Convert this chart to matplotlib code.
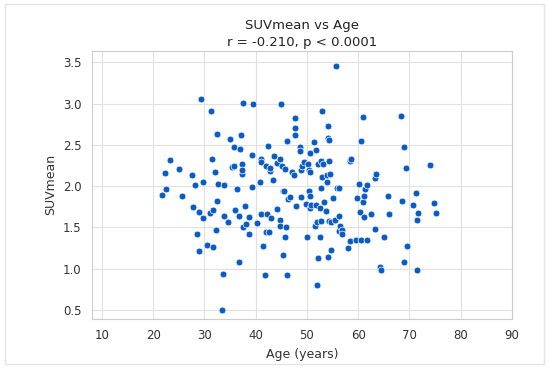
import matplotlib
matplotlib.use("Agg")
import matplotlib.pyplot as plt
import seaborn as sns
import pandas as pd
from matplotlib.patches import Rectangle

# values
age = [21.7, 22.5, 22.3, 23.2, 25.0, 25.6, 27.6, 27.7, 28.1, 28.5,
       28.9, 28.9, 29.4, 29.8, 29.7, 30.5, 31.2, 31.0, 31.4, 31.6,
       31.6, 32.1, 32.3, 32.5, 32.5, 32.7, 33.6, 33.5, 33.8, 33.9,
       34.6, 34.9, 35.3, 35.8, 35.8, 35.9, 36.3, 36.7, 36.9, 36.8,
       37.2, 37.4, 37.4, 37.5, 37.6, 37.4, 38.0, 38.2, 38.7, 38.7,
       39.2, 39.3, 39.4, 40.2, 40.9, 41.0, 41.0, 41.0, 41.5, 41.8,
       42.0, 42.0, 42.2, 42.4, 42.5, 42.7, 42.8, 42.9, 43.4, 43.6,
       44.1, 44.2, 44.7, 44.8, 44.7, 45.0, 45.1, 45.3, 45.4, 45.6,
       45.8, 45.8, 46.0, 46.1, 46.1, 46.3, 46.7, 47.1, 47.4, 47.6,
       47.6, 47.7, 47.9, 48.6, 48.7, 48.8, 48.8, 49.0, 49.4, 49.9,
       50.0, 50.2, 50.4, 50.4, 50.5, 50.5, 50.6, 50.6, 50.8, 51.4,
       51.6, 51.7, 51.8, 51.9, 52.0, 52.2, 52.2, 52.5, 52.6, 52.7,
       52.7, 52.9, 52.8, 52.9, 53.2, 53.4, 53.7, 53.9, 54.0, 54.2,
       54.2, 54.3, 54.3, 54.3, 54.5, 54.2, 54.7, 54.7, 55.0, 55.4,
       55.6, 55.9, 56.2, 56.2, 56.2, 56.4, 56.8, 56.9, 58.0, 58.3,
       58.6, 58.4, 59.6, 59.8, 60.2, 60.5, 60.4, 60.6, 60.9, 61.0,
       61.1, 61.2, 61.4, 61.7, 61.7, 62.5, 63.3, 63.4, 63.3, 64.2,
       64.5, 65.1, 65.8, 66.1, 68.4, 68.5, 68.9, 69.0, 69.4, 69.5,
       70.6, 71.3, 71.4, 71.5, 71.6, 74.0, 74.7, 75.2]
suv = [1.89, 1.96, 2.16, 2.32, 2.21, 1.88, 2.13, 1.75, 2.01, 1.42,
       1.69, 1.21, 3.05, 2.05, 1.61, 1.29, 2.91, 1.68, 2.33, 1.26,
       1.71, 2.17, 1.47, 2.63, 1.82, 2.02, 0.94, 0.50, 2.01, 1.64,
       1.57, 2.57, 2.23, 2.25, 2.48, 1.71, 1.97, 1.64, 2.45, 1.08,
       2.62, 2.15, 2.27, 3.01, 1.51, 2.20, 1.76, 1.54, 1.42, 1.63,
       2.38, 1.99, 3.00, 1.55, 2.05, 2.33, 2.29, 1.66, 1.27, 0.92,
       2.24, 1.44, 1.66, 2.49, 1.44, 2.18, 2.22, 1.61, 2.08, 2.37,
       2.28, 1.72, 2.33, 1.59, 1.52, 2.99, 2.24, 1.94, 1.16, 1.94,
       2.21, 1.39, 1.50, 2.55, 0.92, 1.85, 1.87, 2.17, 2.13, 2.83,
       2.71, 2.62, 1.76, 2.47, 2.42, 2.20, 1.87, 2.24, 2.29, 1.78,
       1.39, 2.27, 2.20, 1.94, 1.73, 1.88, 2.40, 2.17, 1.77, 2.53,
       1.52, 2.44, 1.77, 1.57, 0.80, 2.27, 1.13, 1.39, 1.74, 1.98,
       1.58, 2.91, 2.31, 2.11, 2.27, 1.81, 1.70, 2.05, 2.13, 2.73,
       2.58, 2.31, 2.56, 1.58, 2.15, 1.14, 1.23, 1.56, 1.86, 1.59,
       3.46, 1.98, 1.98, 1.64, 1.46, 1.52, 1.47, 1.42, 1.25, 2.30,
       2.33, 1.33, 1.35, 1.86, 2.03, 1.35, 1.69, 2.55, 1.81, 2.84,
       1.63, 1.88, 1.97, 2.01, 1.35, 1.66, 2.10, 2.15, 1.48, 1.02,
       0.98, 1.39, 1.88, 1.66, 2.85, 1.82, 1.08, 2.48, 2.22, 1.27,
       1.77, 1.92, 1.59, 0.98, 1.67, 2.26, 1.79, 1.68]

df = pd.DataFrame({"Age": age, "SUVmean": suv})

sns.set_style("whitegrid", {"axes.edgecolor": "#cccccc", "grid.color": "#e0e0e0"})
plt.rcParams["font.family"] = ["DejaVu Sans"]

fig = plt.figure(figsize=(5.5, 3.7), dpi=100)
ax = fig.add_axes([0.1667, 0.137, 0.7642, 0.7265])

sns.scatterplot(data=df, x="Age", y="SUVmean", ax=ax, s=24, color="#0a5bc4",
                edgecolor="white", linewidth=0.5)

ax.set_xlim(8, 90)
ax.set_ylim(0.387, 3.643)
ax.set_xticks(range(10, 91, 10))
ax.set_yticks([0.5, 1.0, 1.5, 2.0, 2.5, 3.0, 3.5])
ax.tick_params(axis="x", labelsize=8.5, pad=3.5, colors="#333333")
ax.tick_params(axis="y", labelsize=8.5, pad=4, colors="#333333")
ax.set_xlabel("Age (years)", fontsize=9, color="#333333", labelpad=4)
ax.set_ylabel("SUVmean", fontsize=9, color="#333333", labelpad=4)
ax.set_title("SUVmean vs Age\nr = -0.210, p < 0.0001", fontsize=9.5,
             color="#222222", pad=3, linespacing=1.45)

# thin frame round the whole picture
fig.patches.append(Rectangle((0.009, 0.016), 0.98, 0.973, transform=fig.transFigure,
                             fill=False, edgecolor="#e4e4e4", linewidth=1))

fig.savefig("out.png", dpi=100)
